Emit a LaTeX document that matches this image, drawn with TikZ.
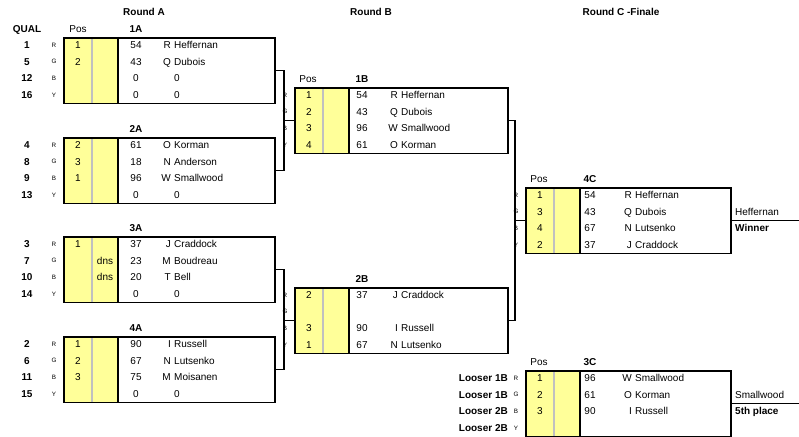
\documentclass[tikz,border=0pt]{standalone}
\usepackage{fontspec}
\setmainfont{Liberation Sans}
\definecolor{race yellow}{HTML}{FFFF99}
\definecolor{divider gray}{HTML}{C0C0C0}

\tikzset{
	heatframe/.style={draw, line width=1.8pt, inner sep=0pt},
	bracket/.style={line width=1.6pt},
	cell/.style={inner sep=0pt, text height=7.2pt, text depth=0pt, font=\fontsize{10}{12}\selectfont},
	boldcell/.style={cell, font=\fontsize{10}{12}\selectfont\bfseries},
	lane/.style={inner sep=0pt, text height=4.5pt, text depth=0pt, font=\fontsize{6.3}{7}\selectfont}
}

% one heat: name, left, top, width, score column, name column, title
\newcommand{\heat}[7]{
	\fill[race yellow] (#2,#3) rectangle ++(55,65.5);
	\draw[divider gray, line width=1.2pt] (#2+29,#3) -- ++(0,65.5);
	\node[heatframe, minimum width=#4, minimum height=65.5, anchor=north west] (#1) at (#2,#3) {};
	\draw[line width=1.8pt] ([xshift=55pt]#1.north west) -- ([xshift=55pt]#1.south west);
	\coordinate (#1 score) at (#2+#5,#3);
	\coordinate (#1 names) at (#2+#6,#3);
	\node[boldcell] (#1 title) at (#2+#5,#3-8) {#7};
	\node[lane] (#1 R) at (#2-9,#3+8) {R};
	\node[lane] (#1 G) at (#2-9,#3+24.6) {G};
	\node[lane] (#1 B) at (#2-9,#3+41.2) {B};
	\node[lane] (#1 Y) at (#2-9,#3+57.8) {Y};
}

% one line of a heat: heat, row, pos, dns, score, initial, name
\newcommand{\racer}[7]{
	\pgfmathsetmacro\rowy{8+16.6*(#2-1)}
	\node[cell] (#1 pos#2) at ([shift={(15,\rowy)}]#1.north west) {#3};
	\node[cell] (#1 dns#2) at ([shift={(42,\rowy)}]#1.north west) {#4};
	\node[cell] (#1 pts#2) at ([shift={(0,\rowy)}]#1 score) {#5};
	\node[cell, anchor=east] (#1 init#2) at ([shift={(-3,\rowy)}]#1 names) {#6};
	\node[cell, anchor=west] (#1 name#2) at ([shift={(0,\rowy)}]#1 names) {#7};
}

\begin{document}
\begin{tikzpicture}[x=1pt, y=-1pt]
	\useasboundingbox (0,0) rectangle (799,436);

	% headings
	\node[boldcell] (round a) at (144,12) {Round A};
	\node[boldcell] (round b) at (371,12) {Round B};
	\node[boldcell] (round c) at (621,12) {Round C -Finale};
	\node[boldcell] (qual) at (27,29) {QUAL};

	% round A
	\heat{1A}{63}{37}{211}{73}{111}{1A}
	\heat{2A}{63}{137}{211}{73}{111}{2A}
	\heat{3A}{63}{236}{211}{73}{111}{3A}
	\heat{4A}{63}{336}{211}{73}{111}{4A}
	\node[cell] (1A pos) at ([shift={(15,-8)}]1A.north west) {Pos};

	\racer{1A}{1}{1}{}{54}{R}{Heffernan}
	\racer{1A}{2}{2}{}{43}{Q}{Dubois}
	\racer{1A}{3}{}{}{0}{}{0}
	\racer{1A}{4}{}{}{0}{}{0}
	\racer{2A}{1}{2}{}{61}{O}{Korman}
	\racer{2A}{2}{3}{}{18}{N}{Anderson}
	\racer{2A}{3}{1}{}{96}{W}{Smallwood}
	\racer{2A}{4}{}{}{0}{}{0}
	\racer{3A}{1}{1}{}{37}{J}{Craddock}
	\racer{3A}{2}{}{dns}{23}{M}{Boudreau}
	\racer{3A}{3}{}{dns}{20}{T}{Bell}
	\racer{3A}{4}{}{}{0}{}{0}
	\racer{4A}{1}{1}{}{90}{I}{Russell}
	\racer{4A}{2}{2}{}{67}{N}{Lutsenko}
	\racer{4A}{3}{3}{}{75}{M}{Moisanen}
	\racer{4A}{4}{}{}{0}{}{0}

	% qualifying places
	\node[boldcell] (q1) at (27,45) {1};
	\node[boldcell] (q5) at (27,61.6) {5};
	\node[boldcell] (q12) at (27,78.2) {12};
	\node[boldcell] (q16) at (27,94.8) {16};
	\node[boldcell] (q4) at (27,145) {4};
	\node[boldcell] (q8) at (27,161.6) {8};
	\node[boldcell] (q9) at (27,178.2) {9};
	\node[boldcell] (q13) at (27,194.8) {13};
	\node[boldcell] (q3) at (27,244) {3};
	\node[boldcell] (q7) at (27,260.6) {7};
	\node[boldcell] (q10) at (27,277.2) {10};
	\node[boldcell] (q14) at (27,293.8) {14};
	\node[boldcell] (q2) at (27,344) {2};
	\node[boldcell] (q6) at (27,360.6) {6};
	\node[boldcell] (q11) at (27,377.2) {11};
	\node[boldcell] (q15) at (27,393.8) {15};

	% round B
	\heat{1B}{294}{87}{213}{68}{107}{1B}
	\heat{2B}{294}{287}{213}{68}{107}{2B}
	\node[cell] (1B pos) at ([shift={(14,-8)}]1B.north west) {Pos};

	\racer{1B}{1}{1}{}{54}{R}{Heffernan}
	\racer{1B}{2}{2}{}{43}{Q}{Dubois}
	\racer{1B}{3}{3}{}{96}{W}{Smallwood}
	\racer{1B}{4}{4}{}{61}{O}{Korman}
	\racer{2B}{1}{2}{}{37}{J}{Craddock}
	\racer{2B}{3}{3}{}{90}{I}{Russell}
	\racer{2B}{4}{1}{}{67}{N}{Lutsenko}

	% round C
	\heat{4C}{525}{187}{205}{65}{110}{4C}
	\heat{3C}{525}{370}{205}{65}{110}{3C}
	\node[cell] (4C pos) at ([shift={(14,-8)}]4C.north west) {Pos};
	\node[cell] (3C pos) at ([shift={(14,-8)}]3C.north west) {Pos};

	\racer{4C}{1}{1}{}{54}{R}{Heffernan}
	\racer{4C}{2}{3}{}{43}{Q}{Dubois}
	\racer{4C}{3}{4}{}{67}{N}{Lutsenko}
	\racer{4C}{4}{2}{}{37}{J}{Craddock}
	\racer{3C}{1}{1}{}{96}{W}{Smallwood}
	\racer{3C}{2}{2}{}{61}{O}{Korman}
	\racer{3C}{3}{3}{}{90}{I}{Russell}

	\node[boldcell, anchor=east] (looser1) at (508,378) {Looser 1B};
	\node[boldcell, anchor=east] (looser2) at (508,394.6) {Looser 1B};
	\node[boldcell, anchor=east] (looser3) at (508,411.2) {Looser 2B};
	\node[boldcell, anchor=east] (looser4) at (508,427.8) {Looser 2B};

	% results
	\node[cell, anchor=west] (winner name) at (735,211.6) {Heffernan};
	\node[boldcell, anchor=west] (winner) at (735,228.2) {Winner};
	\node[cell, anchor=west] (fifth name) at (735,394.6) {Smallwood};
	\node[boldcell, anchor=west] (fifth) at (735,411.2) {5th place};
	\coordinate (edge) at (799,0);

	% brackets
	\draw[bracket] (1A.east) -- ++(8,0) coordinate (join 1) |- (2A.east);
	\draw[bracket] (join 1 |- 1B.west) -- (1B.west);
	\draw[bracket] (3A.east) -- ++(8,0) coordinate (join 2) |- (4A.east);
	\draw[bracket] (join 2 |- 2B.west) -- (2B.west);
	\draw[bracket] (1B.east) -- ++(6,0) coordinate (join 3) |- (2B.east);
	\draw[bracket] (join 3 |- 4C.west) -- (4C.west);
	\draw[bracket] (4C.east) -- (4C.east -| edge);
	\draw[bracket] (3C.east) -- (3C.east -| edge);
\end{tikzpicture}
\end{document}
